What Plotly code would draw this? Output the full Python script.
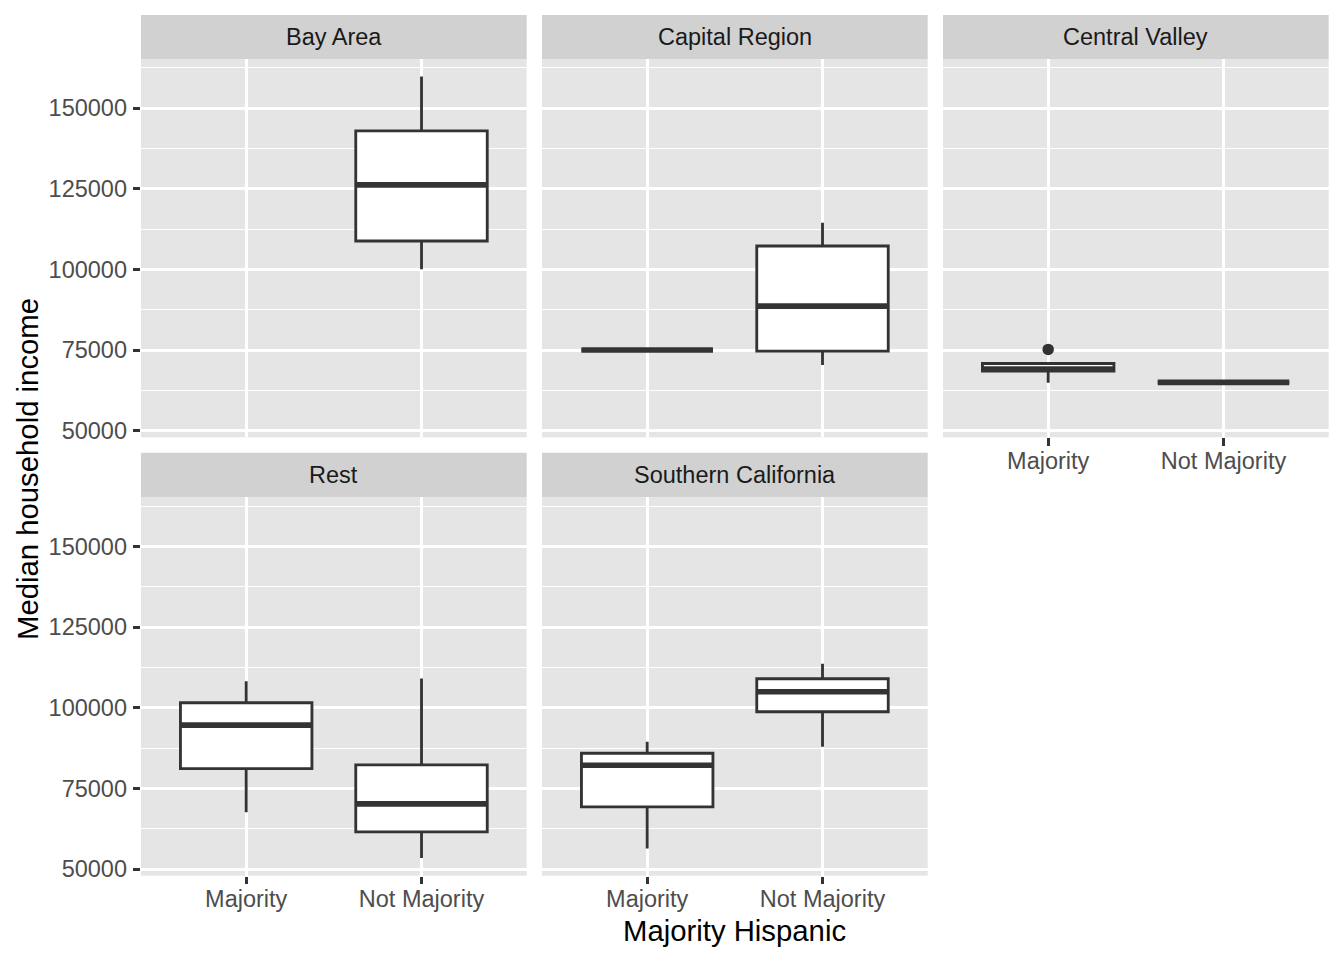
import plotly.graph_objects as go

# ---------------- data ----------------
regions = ["Bay Area", "Capital Region", "Central Valley", "Rest", "Southern California"]
groups = ["Majority", "Not Majority"]

rec_region = ["Bay Area", "Capital Region", "Capital Region", "Central Valley", "Central Valley",
              "Rest", "Rest", "Southern California", "Southern California"]
rec_group = ["Not Majority", "Majority", "Not Majority", "Majority", "Not Majority",
             "Majority", "Not Majority", "Majority", "Not Majority"]
lower_whisker = [100060, 75050, 70380, 64890, 65040, 67650, 53500, 56390, 87930]
q1_vals = [108840, 75050, 74720, 68550, 65040, 81200, 61570, 69320, 98790]
median_vals = [126210, 75050, 88680, 69140, 65040, 94630, 70250, 82230, 104990]
q3_vals = [142960, 75050, 107290, 70870, 65040, 101580, 82350, 85950, 109030]
upper_whisker = [159800, 75050, 114500, 70870, 65040, 108280, 109120, 89490, 113680]

outlier_region = ["Central Valley"]
outlier_group = ["Majority"]
outlier_value = [75250]

y_ticks = [50000, 75000, 100000, 125000, 150000]
y_minor = [62500, 87500, 112500, 137500, 162500]

x_title = "Majority Hispanic"
y_title = "Median household income"

# ---------------- layout geometry (px, page coords; page body has 8px margin) ----------------
OFF = 8
W, H = 1344 - 2 * OFF, 960 - 2 * OFF
def px(v):
    return v - OFF

col_x = [(141, 526.7), (542, 927.7), (943, 1328.7)]
row_panel = [(59, 437.3), (497.3, 875.7)]
row_strip = [(15, 59), (452.7, 497.3)]
panel_pos = {"Bay Area": (0, 0), "Capital Region": (0, 1), "Central Valley": (0, 2),
             "Rest": (1, 0), "Southern California": (1, 1)}

LINE = "#333333"
BOX_W = 0.75
LW = 2.84
PANEL_BG = "#E5E5E5"
STRIP_BG = "#D1D1D1"

fig = go.Figure()
layout = dict(width=W, height=H, autosize=False,
              margin=dict(l=0, r=0, t=0, b=0, pad=0, autoexpand=False),
              paper_bgcolor="white", plot_bgcolor=PANEL_BG, showlegend=False,
              font=dict(family="Liberation Sans, Arial, Helvetica, sans-serif"))
shapes, annotations = [], []

def axis_names(k):
    return ("x" if k == 1 else f"x{k}"), ("y" if k == 1 else f"y{k}")

for k, reg in enumerate(regions, start=1):
    r, c = panel_pos[reg]
    xa, ya = axis_names(k)
    x0, x1 = px(col_x[c][0]), px(col_x[c][1])
    p0, p1 = px(row_panel[r][0]), px(row_panel[r][1])
    bottom_axis = (r == 1) or (reg == "Central Valley")
    left_axis = (c == 0)
    layout["xaxis" if k == 1 else f"xaxis{k}"] = dict(
        domain=[x0 / W, x1 / W], anchor=ya, range=[-0.6, 1.6], automargin=False,
        tickmode="array", tickvals=[0, 1], ticktext=groups,
        showgrid=True, gridcolor="white", gridwidth=LW, zeroline=False,
        showline=False, showticklabels=bottom_axis,
        ticks="outside" if bottom_axis else "", ticklen=7.3, tickwidth=LW, tickcolor=LINE,
        tickfont=dict(size=23.5, color="#4D4D4D"), ticklabelstandoff=-5,
        fixedrange=True)
    layout["yaxis" if k == 1 else f"yaxis{k}"] = dict(
        domain=[1 - p1 / H, 1 - p0 / H], anchor=xa, range=[48000, 165250], automargin=False,
        tickmode="array", tickvals=y_ticks, ticktext=[str(v) for v in y_ticks],
        showgrid=True, gridcolor="white", gridwidth=LW, zeroline=False,
        minor=dict(tickmode="array", tickvals=y_minor, showgrid=True,
                   gridcolor="white", gridwidth=LW / 2, ticks=""),
        showline=False, showticklabels=left_axis,
        ticks="outside" if left_axis else "", ticklen=7.3, tickwidth=LW, tickcolor=LINE,
        tickfont=dict(size=23.5, color="#4D4D4D"), ticklabelstandoff=1,
        fixedrange=True)
    # strip
    s0, s1 = px(row_strip[r][0]), px(row_strip[r][1])
    shapes.append(dict(type="rect", xref="paper", yref="paper",
                       x0=x0 / W, x1=x1 / W, y0=1 - s1 / H, y1=1 - s0 / H,
                       fillcolor=STRIP_BG, line=dict(width=0), layer="below"))
    annotations.append(dict(text=reg, xref="paper", yref="paper",
                            x=(x0 + x1) / 2 / W, y=1 - (s0 + s1) / 2 / H,
                            xanchor="center", yanchor="middle", showarrow=False,
                            font=dict(size=23.5, color="#1A1A1A")))

# boxes
for i in range(len(rec_region)):
    k = regions.index(rec_region[i]) + 1
    xa, ya = axis_names(k)
    pos = groups.index(rec_group[i])
    fig.add_trace(go.Box(
        x=[pos], q1=[q1_vals[i]], median=[median_vals[i]], q3=[q3_vals[i]],
        lowerfence=[lower_whisker[i]], upperfence=[upper_whisker[i]],
        width=BOX_W, whiskerwidth=0, boxpoints=False,
        fillcolor="white", line=dict(color=LINE, width=LW),
        xaxis=xa, yaxis=ya, hoverinfo="skip"))
    fig.add_trace(go.Scatter(
        x=[pos - BOX_W / 2, pos + BOX_W / 2], y=[median_vals[i], median_vals[i]],
        mode="lines", line=dict(color=LINE, width=LW * 2),
        xaxis=xa, yaxis=ya, hoverinfo="skip"))

# outliers
for j in range(len(outlier_value)):
    k = regions.index(outlier_region[j]) + 1
    xa, ya = axis_names(k)
    fig.add_trace(go.Scatter(
        x=[groups.index(outlier_group[j])], y=[outlier_value[j]], mode="markers",
        marker=dict(size=11.5, color=LINE, line=dict(width=0)),
        xaxis=xa, yaxis=ya, hoverinfo="skip"))

# axis titles
annotations.append(dict(text=x_title, xref="paper", yref="paper",
                        x=px((141 + 1328.7) / 2) / W, y=1 - px(930) / H,
                        xanchor="center", yanchor="middle", showarrow=False,
                        font=dict(size=29.3, color="black")))
annotations.append(dict(text=y_title, xref="paper", yref="paper",
                        x=px(27) / W, y=1 - px(469) / H, textangle=-90,
                        xanchor="center", yanchor="middle", showarrow=False,
                        font=dict(size=29.3, color="black")))

layout["shapes"] = shapes
layout["annotations"] = annotations
fig.update_layout(**layout)
fig.write_html("out.html")
